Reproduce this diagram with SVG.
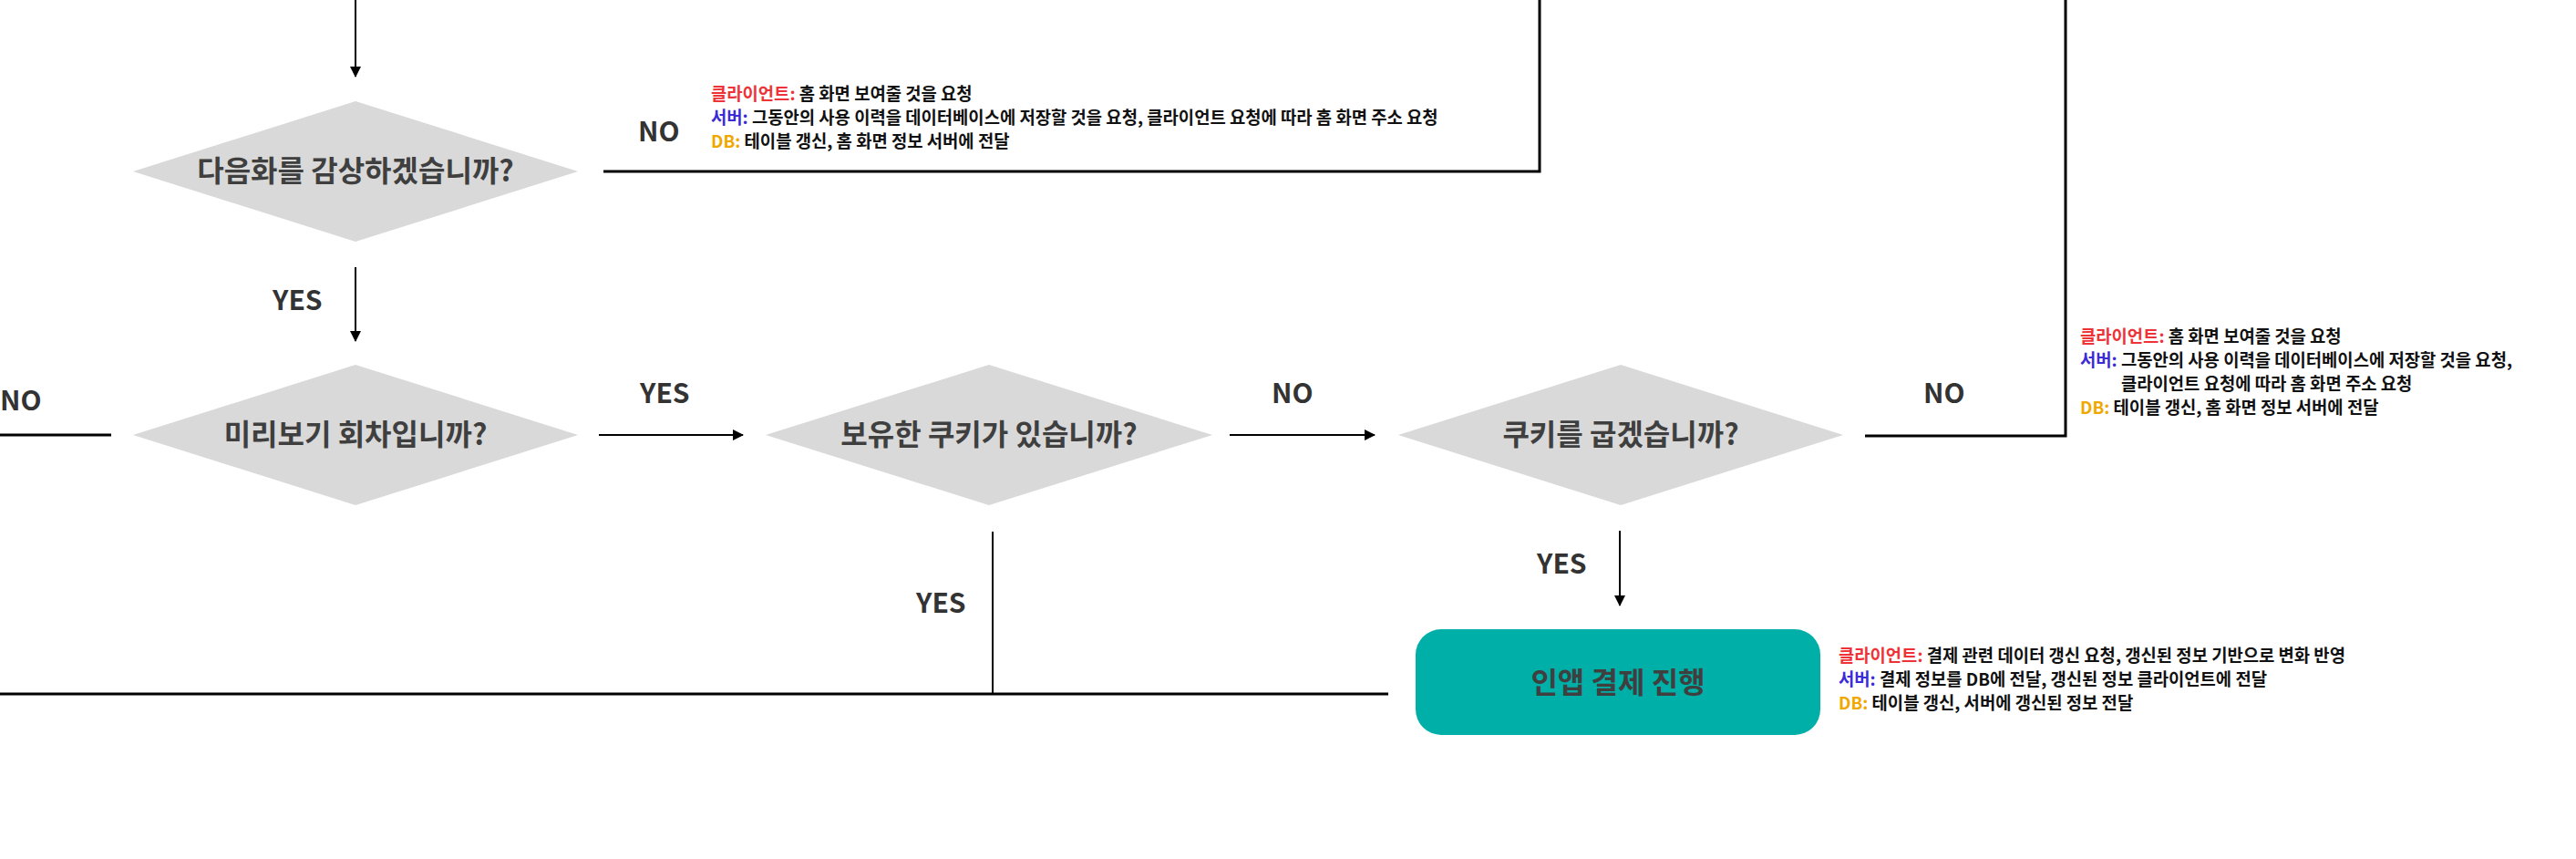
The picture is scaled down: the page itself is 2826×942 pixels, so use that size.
<svg xmlns="http://www.w3.org/2000/svg" width="2826" height="942" viewBox="0 0 2826 942">
<defs>
<marker id="arr" markerWidth="12" markerHeight="12" refX="11" refY="6" orient="auto" markerUnits="userSpaceOnUse">
<path d="M0,0 L12,6 L0,12 Z" fill="#000"/>
</marker>
<style>
.dia{fill:#d9d9d9}
.dt{font-family:"Noto Sans CJK KR","Noto Sans",sans-serif;font-weight:700;font-size:32px;fill:#3f3f3f;text-anchor:middle}
.lbl{font-family:"Noto Sans CJK KR","Noto Sans",sans-serif;font-weight:700;font-size:30px;fill:#333}
.info{font-family:"Noto Sans CJK KR","Noto Sans",sans-serif;font-weight:700;font-size:18.8px;fill:#111}
.cl{fill:#ee3338}.sv{fill:#3b2bd6}.db{fill:#f0a800}
.ln{stroke:#000;stroke-width:2;fill:none}
.lnb{stroke:#000;stroke-width:3;fill:none}
</style>
</defs>
<rect width="2826" height="942" fill="#fff"/>
<g id="connectors">
<line class="ln" x1="390" y1="0" x2="390" y2="84" marker-end="url(#arr)"/>
<polyline class="lnb" points="662,188 1689,188 1689,0"/>
<line class="ln" x1="390" y1="293" x2="390" y2="374" marker-end="url(#arr)"/>
<line class="lnb" x1="0" y1="477" x2="122" y2="477"/>
<line class="ln" x1="657" y1="477" x2="815" y2="477" marker-end="url(#arr)"/>
<line class="ln" x1="1349" y1="477" x2="1508" y2="477" marker-end="url(#arr)"/>
<polyline class="lnb" points="2046,478 2266,478 2266,0"/>
<line class="ln" x1="1089" y1="583" x2="1089" y2="761"/>
<line class="lnb" x1="0" y1="761" x2="1523" y2="761"/>
<line class="ln" x1="1777" y1="582" x2="1777" y2="664" marker-end="url(#arr)"/>
</g>
<g id="labels">
<text class="lbl" x="700" y="155">NO</text>
<text class="lbl" x="299" y="340">YES</text>
<text class="lbl" x="0" y="450">NO</text>
<text class="lbl" x="702" y="442">YES</text>
<text class="lbl" x="1395" y="442">NO</text>
<text class="lbl" x="2110" y="442">NO</text>
<text class="lbl" x="1005" y="672">YES</text>
<text class="lbl" x="1686" y="629">YES</text>
</g>
<g id="node-next-episode">
<polygon class="dia" points="390,111 634,188 390,265 146,188"/>
<text class="dt" x="390" y="199">다음화를 감상하겠습니까?</text>
</g>
<g id="node-preview">
<polygon class="dia" points="390,400 634,477 390,554 146,477"/>
<text class="dt" x="390" y="488">미리보기 회차입니까?</text>
</g>
<g id="node-has-cookie">
<polygon class="dia" points="1085,400 1330,477 1085,554 840,477"/>
<text class="dt" x="1085" y="488">보유한 쿠키가 있습니까?</text>
</g>
<g id="node-bake-cookie">
<polygon class="dia" points="1778,400 2022,477 1778,554 1534,477"/>
<text class="dt" x="1778" y="488">쿠키를 굽겠습니까?</text>
</g>
<g id="node-payment">
<rect x="1553" y="690" width="444" height="116" rx="28" fill="#00b0a8"/>
<text class="dt" x="1775" y="760">인앱 결제 진행</text>
</g>
<g id="info-1">
<text class="info" x="780" y="110"><tspan class="cl">클라이언트:</tspan> 홈 화면 보여줄 것을 요청</text>
<text class="info" x="780" y="136"><tspan class="sv">서버:</tspan> 그동안의 사용 이력을 데이터베이스에 저장할 것을 요청, 클라이언트 요청에 따라 홈 화면 주소 요청</text>
<text class="info" x="780" y="162"><tspan class="db">DB:</tspan> 테이블 갱신, 홈 화면 정보 서버에 전달</text>
</g>
<g id="info-2">
<text class="info" x="2282" y="376"><tspan class="cl">클라이언트:</tspan> 홈 화면 보여줄 것을 요청</text>
<text class="info" x="2282" y="402"><tspan class="sv">서버:</tspan> 그동안의 사용 이력을 데이터베이스에 저장할 것을 요청,</text>
<text class="info" x="2327" y="428">클라이언트 요청에 따라 홈 화면 주소 요청</text>
<text class="info" x="2282" y="454"><tspan class="db">DB:</tspan> 테이블 갱신, 홈 화면 정보 서버에 전달</text>
</g>
<g id="info-3">
<text class="info" x="2017" y="726"><tspan class="cl">클라이언트:</tspan> 결제 관련 데이터 갱신 요청, 갱신된 정보 기반으로 변화 반영</text>
<text class="info" x="2017" y="752"><tspan class="sv">서버:</tspan> 결제 정보를 DB에 전달, 갱신된 정보 클라이언트에 전달</text>
<text class="info" x="2017" y="778"><tspan class="db">DB:</tspan> 테이블 갱신, 서버에 갱신된 정보 전달</text>
</g>
</svg>
